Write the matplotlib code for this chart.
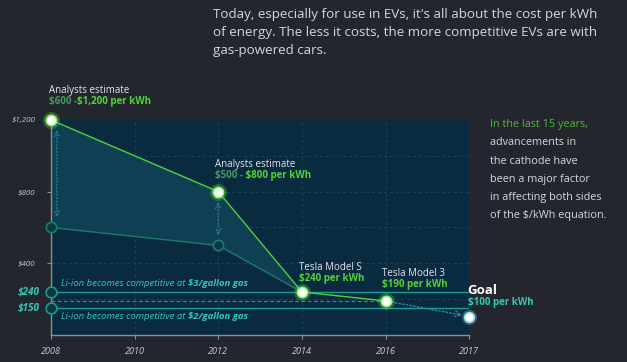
import numpy as np
import matplotlib.pyplot as plt

# data
year_labels = ["2008", "2010", "2012", "2014", "2016", "2017"]
est_x = [0, 2, 3, 4]          # positions of 2008, 2012, 2014, 2016
est_high = [1200, 800, 240, 190]
low_x = [0, 2, 3]
est_low = [600, 500, 240]
goal_x = 5
goal_val = 100
gas3_val = 240
gas2_val = 150
ytick_vals = [400, 800, 1200]
ytick_labels = ["$400", "$800", "$1,200"]

BG = "#24262e"
PLOT_BG = "#0a2b3f"
BAND = "#0e3f53"
GREEN = "#52d23a"
DIMGREEN = "#3f9a5e"
TEAL = "#33c9b7"
DARKTEAL = "#1f7a68"
GRID = "#164458"
GRAY = "#c9ccd2"

plt.rcParams['font.family'] = ['Open Sans', 'DejaVu Sans']

fig = plt.figure(figsize=(6.27, 3.62), dpi=100)
fig.patch.set_facecolor(BG)
ax = fig.add_axes([0.0813, 0.0746, 0.667, 0.594])
ax.set_facecolor(PLOT_BG)
ax.set_xlim(0, 5)
ax.set_ylim(0, 1200)

# grid
for gx in range(1, 5):
    ax.axvline(gx, color=GRID, lw=0.7, ls=(0, (3, 3)), zorder=1)
for gy in range(200, 1200, 200):
    ax.axhline(gy, color=GRID, lw=0.7, ls=(0, (3, 3)), zorder=1)

# band between the two estimates
xs = np.linspace(0, 3, 60)
ax.fill_between(xs, np.interp(xs, low_x, est_low), np.interp(xs, est_x, est_high),
                color=BAND, lw=0, zorder=1.5)

# gas lines
ax.plot([0, 5], [gas3_val, gas3_val], color="#1f9a90", lw=1.0, zorder=2)
ax.plot([0, 5], [gas2_val, gas2_val], color="#1f9a90", lw=1.0, zorder=2)
ax.plot([0, est_x[-1]], [est_high[-1], est_high[-1]], color="#2a8f95", lw=0.9,
        ls=(0, (3, 2)), zorder=2)

# range arrows
ax.annotate("", xy=(0.07, est_low[0] + 40), xytext=(0.07, est_high[0] - 40),
            arrowprops=dict(arrowstyle="<->", color="#2a7c98", lw=0.9, ls=":"), zorder=2)
ax.annotate("", xy=(2, est_low[1] + 40), xytext=(2, est_high[1] - 40),
            arrowprops=dict(arrowstyle="<->", color="#2a7c98", lw=0.9, ls=":"), zorder=2)

# lines
ax.plot(low_x, est_low, color=DARKTEAL, lw=1.0, zorder=3)
ax.plot(est_x, est_high, color=GREEN, lw=1.0, zorder=3)
ax.annotate("", xy=(goal_x - 0.05, goal_val + 8), xytext=(est_x[-1], est_high[-1]),
            arrowprops=dict(arrowstyle="->", color="#2a8fb0", lw=1.0, ls=":"), zorder=3)

# markers
ax.scatter(low_x[:2], est_low[:2], s=55, facecolor="#0b3644", edgecolor=DARKTEAL,
           lw=1.2, zorder=4, clip_on=False)
ax.scatter([0, 0], [gas3_val, gas2_val], s=60, facecolor="#0b3644", edgecolor="#1f9a90",
           lw=1.2, zorder=4, clip_on=False)
ax.scatter(est_x, est_high, s=150, color=GREEN, alpha=0.35, lw=0, zorder=4, clip_on=False)
ax.scatter(est_x, est_high, s=55, facecolor="white", edgecolor="#8ef07a", lw=1.2,
           zorder=5, clip_on=False)
ax.scatter([goal_x], [goal_val], s=120, color="#5fb8e0", alpha=0.35, lw=0, zorder=4, clip_on=False)
ax.scatter([goal_x], [goal_val], s=50, facecolor="white", edgecolor="#9fd6ee", lw=1.2,
           zorder=5, clip_on=False)

# axes styling
for side in ["top", "right"]:
    ax.spines[side].set_visible(False)
for side in ["left", "bottom"]:
    ax.spines[side].set_color("#8a9096")
    ax.spines[side].set_linewidth(1.0)
ax.set_xticks(range(6))
ax.set_xticklabels(year_labels, style="italic", color=GRAY, fontsize=6.5)
ax.tick_params(axis="x", length=3, color="#8a9096", pad=6)
ax.set_yticks(ytick_vals)
ax.set_yticklabels(ytick_labels, style="italic", color=GRAY, fontsize=5.8)
ax.tick_params(axis="y", length=3, color="#8a9096", pad=8)
for val, lab in [(gas3_val, "$240"), (gas2_val, "$150")]:
    ax.text(-0.14, val, lab, color=TEAL, fontsize=7.2, fontweight="bold", style="italic",
            ha="right", va="center")

def label(x, y, top, dim, bright, color=GREEN, dimcolor=DIMGREEN):
    t = ax.text(x, y, top, color="#e4e6ea", fontsize=7, ha="left", va="bottom",
                clip_on=False)
    anchor = t
    pos = (0, 0)
    va = "top"
    if dim:
        anchor = ax.annotate(dim, xy=(0, 0), xycoords=t, va="top", ha="left",
                             color=dimcolor, fontsize=7, fontweight="bold")
        pos = (1, 0)
        va = "bottom"
    ax.annotate(bright, xy=pos, xycoords=anchor, va=va, ha="left",
                color=color, fontsize=7, fontweight="bold")

label(-0.02, 1335, "Analysts estimate", "$600 -", "$1,200 per kWh")
label(1.96, 920, "Analysts estimate", "$500 -", " $800 per kWh")
label(2.97, 345, "Tesla Model S", "", "$240 per kWh")
label(3.96, 310, "Tesla Model 3", "", "$190 per kWh")

g = ax.text(4.98, 210, "Goal", color="white", fontsize=9.5, fontweight="bold",
            ha="left", va="bottom", clip_on=False)
ax.annotate("$100 per kWh", xy=(0, 0), xycoords=g, va="top", ha="left",
            color=TEAL, fontsize=7, fontweight="bold")

t = ax.text(0.12, 262, "Li-ion becomes competitive at ", color=TEAL, fontsize=6.8,
            style="italic", ha="left", va="bottom")
ax.annotate("$3/gallon gas", xy=(1, 0), xycoords=t, va="bottom", ha="left",
            color=TEAL, fontsize=6.8, fontweight="bold", style="italic")
t = ax.text(0.12, 130, "Li-ion becomes competitive at ", color=TEAL, fontsize=6.8,
            style="italic", ha="left", va="top")
ax.annotate("$2/gallon gas", xy=(1, 0), xycoords=t, va="bottom", ha="left",
            color=TEAL, fontsize=6.8, fontweight="bold", style="italic")

# header text
fig.text(0.34, 0.978, "Today, especially for use in EVs, it's all about the cost per kWh\n"
         "of energy. The less it costs, the more competitive EVs are with\n"
         "gas-powered cars.", color="#d5d7db", fontsize=9.6, ha="left", va="top",
         linespacing=1.5)

# side note
fig.text(0.782, 0.655, "In the last 15 years,", color="#4fb83a", fontsize=7.8,
         ha="left", va="center")
side_lines = ["advancements in", "the cathode have", "been a major factor",
              "in affecting both sides", "of the $/kWh equation."]
for i, s in enumerate(side_lines):
    fig.text(0.782, 0.655 - (i + 1) * 0.05, s, color="#d5d7db", fontsize=7.8,
             ha="left", va="center")

fig.savefig("out.png", dpi=100, facecolor=BG)
